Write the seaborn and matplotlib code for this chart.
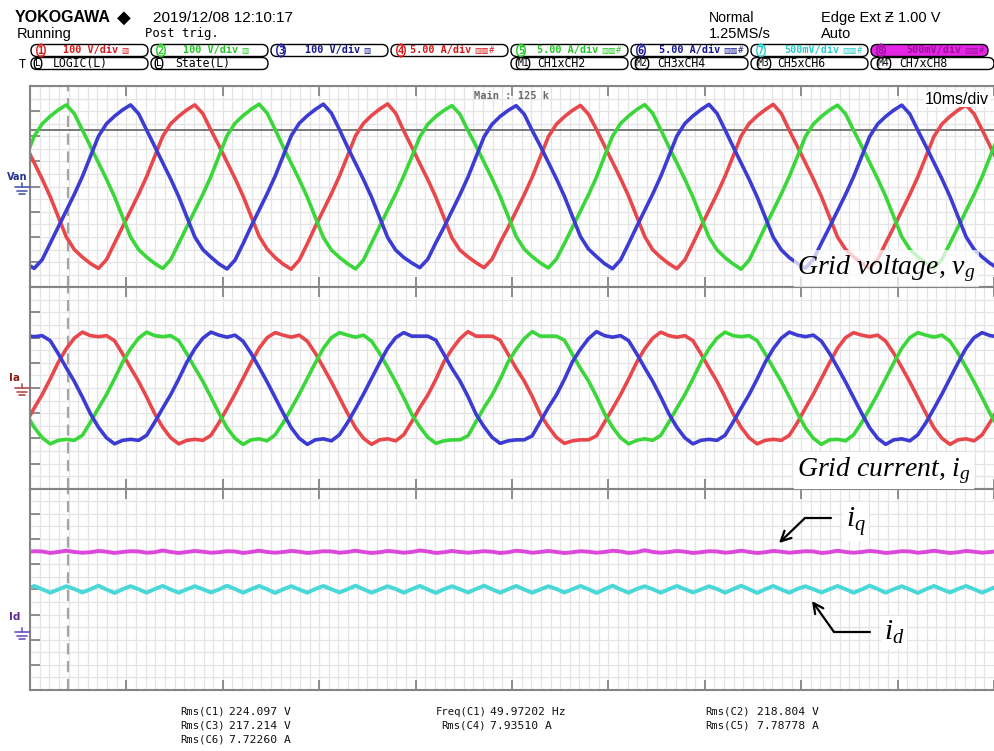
import numpy as np
import pandas as pd
import matplotlib
matplotlib.use("Agg")
import matplotlib.pyplot as plt
import seaborn as sns
from matplotlib.patches import FancyBboxPatch

# ---------------------------------------------------------------------------
# Scope record: 10 ms/div, 10 divisions; sample instants in ms
# ---------------------------------------------------------------------------
t_ms = -0.4 + np.arange(122) * (100.0 / 120.0)

# CH1..CH3 grid phase voltages (V), 100 V/div
v_ch1 = [160, 95, 30, -40, -120, -200, -250, -280, -305, -325, -290, -225, -160, -95, -30, 40, 120, 200, 250, 280, 305, 325, 290, 225,
         163, 98, 33, -37, -117, -197, -248, -282, -308, -328, -292, -227, -158, -93, -28, 42, 122, 202, 252, 283, 308, 329, 292, 222,
         158, 92, 28, -42, -122, -203, -252, -279, -302, -322, -288, -222, -162, -97, -32, 38, 118, 198, 248, 278, 303, 323, 288, 227,
         162, 97, 32, -38, -118, -198, -251, -281, -306, -326, -291, -226, -159, -94, -29, 41, 121, 201, 251, 281, 306, 327, 291, 224,
         160, 95, 30, -40, -120, -200, -249, -279, -304, -324, -289, -224, -161, -96, -31, 39, 119, 199, 249, 279, 304, 324, 289, 226,
         161, 96]
v_ch2 = [120, 200, 250, 280, 305, 325, 290, 225, 160, 95, 30, -40, -120, -200, -250, -280, -305, -325, -290, -225, -160, -95, -30, 40,
         122, 202, 252, 282, 307, 328, 292, 227, 158, 93, 28, -42, -122, -202, -252, -281, -306, -327, -291, -224, -158, -93, -28, 42,
         118, 198, 248, 279, 303, 322, 288, 223, 162, 97, 32, -38, -118, -198, -248, -278, -303, -323, -288, -226, -162, -97, -32, 38,
         121, 201, 251, 281, 306, 326, 291, 226, 159, 94, 29, -41, -121, -201, -251, -282, -307, -328, -292, -227, -159, -94, -29, 41,
         119, 199, 249, 279, 304, 324, 289, 224, 161, 96, 31, -39, -119, -199, -249, -279, -304, -324, -289, -225, -161, -96, -31, 39,
         120, 200]
v_ch3 = [-305, -325, -290, -225, -160, -95, -30, 40, 120, 200, 250, 280, 305, 325, 290, 225, 160, 95, 30, -40, -120, -200, -250, -280,
         -307, -327, -292, -227, -158, -93, -28, 42, 122, 202, 252, 282, 307, 328, 292, 227, 158, 93, 28, -42, -122, -202, -252, -281,
         -303, -322, -288, -223, -162, -97, -32, 38, 118, 198, 248, 279, 303, 322, 288, 223, 162, 97, 32, -38, -118, -198, -248, -278,
         -306, -326, -291, -226, -159, -94, -29, 41, 121, 201, 251, 281, 306, 327, 291, 226, 159, 94, 29, -41, -121, -201, -251, -282,
         -304, -324, -289, -224, -161, -96, -31, 39, 119, 199, 249, 279, 304, 324, 289, 224, 161, 96, 31, -39, -119, -199, -249, -279,
         -305, -325]

# CH4..CH6 grid phase currents (A), 5 A/div
i_ch4 = [-6.8, -4.0, -1.3, 1.8, 5.1, 7.8, 9.9, 11.1, 10.4, 10.2, 10.4, 9.4, 6.8, 4.0, 1.3, -1.8, -5.1, -7.8, -9.9, -11.1, -10.4, -10.2, -10.4, -9.4,
         -6.9, -4.1, -1.2, 1.9, 5.0, 7.9, 10.0, 11.0, 10.5, 10.1, 10.5, 9.3, 6.9, 4.1, 1.2, -1.9, -5.0, -7.9, -10.0, -11.2, -10.3, -10.1, -10.5, -9.3,
         -6.7, -3.9, -1.4, 1.7, 5.2, 7.7, 9.8, 11.2, 10.3, 10.3, 10.3, 9.5, 6.7, 3.9, 1.4, -1.7, -5.2, -7.7, -9.8, -11.0, -10.5, -10.3, -10.3, -9.5,
         -6.8, -4.1, -1.3, 1.8, 5.1, 7.8, 9.9, 11.1, 10.4, 10.1, 10.4, 9.4, 6.8, 4.0, 1.3, -1.8, -5.1, -7.8, -9.9, -11.1, -10.4, -10.2, -10.4, -9.4,
         -6.9, -4.0, -1.2, 1.9, 5.0, 7.9, 10.0, 11.0, 10.5, 10.2, 10.5, 9.3, 6.9, 4.1, 1.2, -1.9, -5.0, -7.9, -10.0, -11.2, -10.3, -10.1, -10.5, -9.3,
         -6.8, -4.0]
i_ch5 = [-5.1, -7.8, -9.9, -11.1, -10.4, -10.2, -10.4, -9.4, -6.8, -4.0, -1.3, 1.8, 5.1, 7.8, 9.9, 11.1, 10.4, 10.2, 10.4, 9.4, 6.8, 4.0, 1.3, -1.8,
         -5.0, -7.9, -10.0, -11.2, -10.3, -10.1, -10.5, -9.3, -6.9, -4.1, -1.2, 1.9, 5.0, 7.9, 10.0, 11.0, 10.5, 10.1, 10.5, 9.3, 6.9, 4.1, 1.2, -1.9,
         -5.2, -7.7, -9.8, -11.0, -10.5, -10.3, -10.3, -9.5, -6.7, -3.9, -1.4, 1.7, 5.2, 7.7, 9.8, 11.2, 10.3, 10.3, 10.3, 9.5, 6.7, 3.9, 1.4, -1.7,
         -5.1, -7.8, -9.9, -11.1, -10.4, -10.1, -10.4, -9.4, -6.8, -4.0, -1.3, 1.8, 5.1, 7.8, 9.9, 11.1, 10.4, 10.2, 10.4, 9.4, 6.8, 4.0, 1.3, -1.8,
         -5.0, -7.9, -10.0, -11.2, -10.3, -10.2, -10.5, -9.3, -6.9, -4.1, -1.2, 1.9, 5.0, 7.9, 10.0, 11.0, 10.5, 10.1, 10.5, 9.3, 6.9, 4.1, 1.2, -1.9,
         -5.1, -7.8]
i_ch6 = [10.4, 10.2, 10.4, 9.4, 6.8, 4.0, 1.3, -1.8, -5.1, -7.8, -9.9, -11.1, -10.4, -10.2, -10.4, -9.4, -6.8, -4.0, -1.3, 1.8, 5.1, 7.8, 9.9, 11.1,
         10.5, 10.1, 10.5, 9.3, 6.9, 4.1, 1.2, -1.9, -5.0, -7.9, -10.0, -11.2, -10.3, -10.1, -10.5, -9.3, -6.9, -4.1, -1.2, 1.9, 5.0, 7.9, 10.0, 11.0,
         10.3, 10.3, 10.3, 9.5, 6.7, 3.9, 1.4, -1.7, -5.2, -7.7, -9.8, -11.0, -10.5, -10.3, -10.3, -9.5, -6.7, -3.9, -1.4, 1.7, 5.2, 7.7, 9.8, 11.2,
         10.4, 10.1, 10.4, 9.4, 6.8, 4.0, 1.3, -1.8, -5.1, -7.8, -9.9, -11.1, -10.4, -10.2, -10.4, -9.4, -6.8, -4.0, -1.3, 1.8, 5.1, 7.8, 9.9, 11.1,
         10.5, 10.2, 10.5, 9.3, 6.9, 4.1, 1.2, -1.9, -5.0, -7.9, -10.0, -11.2, -10.3, -10.1, -10.5, -9.3, -6.9, -4.1, -1.2, 1.9, 5.0, 7.9, 10.0, 11.0,
         10.4, 10.2]

# CH7 (i_d) and CH8 (i_q) controller outputs (V), 500 mV/div
id_ch7 = [0.850, 0.915, 0.850, 0.780, 0.845, 0.910, 0.855, 0.785, 0.850, 0.920, 0.845, 0.775,
          0.850, 0.910, 0.850, 0.780, 0.855, 0.915, 0.845, 0.780, 0.850, 0.910, 0.850, 0.785,
          0.845, 0.920, 0.855, 0.780, 0.850, 0.915, 0.850, 0.775, 0.850, 0.910, 0.845, 0.780,
          0.855, 0.915, 0.850, 0.785, 0.850, 0.920, 0.850, 0.780, 0.845, 0.910, 0.855, 0.780,
          0.850, 0.915, 0.845, 0.775, 0.850, 0.910, 0.850, 0.785, 0.855, 0.920, 0.850, 0.780,
          0.850, 0.915, 0.845, 0.780, 0.845, 0.910, 0.855, 0.785, 0.850, 0.915, 0.850, 0.775,
          0.850, 0.920, 0.845, 0.780, 0.855, 0.910, 0.850, 0.780, 0.850, 0.915, 0.850, 0.785,
          0.845, 0.910, 0.855, 0.780, 0.850, 0.920, 0.850, 0.775, 0.850, 0.915, 0.845, 0.780,
          0.855, 0.910, 0.850, 0.785, 0.850, 0.915, 0.850, 0.780, 0.845, 0.920, 0.855, 0.780,
          0.850, 0.910, 0.845, 0.775, 0.850, 0.915, 0.850, 0.785, 0.855, 0.915, 0.850, 0.780,
          0.850, 0.915]
iq_ch8 = [1.585, 1.605, 1.600, 1.570, 1.590, 1.615, 1.590, 1.575, 1.585, 1.610, 1.595, 1.570,
          1.590, 1.605, 1.600, 1.575, 1.585, 1.620, 1.590, 1.570, 1.590, 1.610, 1.595, 1.575,
          1.585, 1.605, 1.600, 1.570, 1.590, 1.615, 1.590, 1.575, 1.590, 1.610, 1.595, 1.570,
          1.585, 1.605, 1.600, 1.575, 1.590, 1.615, 1.590, 1.570, 1.585, 1.610, 1.595, 1.575,
          1.590, 1.620, 1.600, 1.570, 1.585, 1.610, 1.590, 1.575, 1.590, 1.605, 1.595, 1.570,
          1.585, 1.615, 1.600, 1.575, 1.590, 1.610, 1.590, 1.570, 1.585, 1.605, 1.595, 1.575,
          1.590, 1.615, 1.600, 1.570, 1.585, 1.625, 1.590, 1.575, 1.590, 1.610, 1.595, 1.570,
          1.585, 1.605, 1.600, 1.575, 1.590, 1.615, 1.590, 1.570, 1.585, 1.610, 1.595, 1.575,
          1.590, 1.605, 1.600, 1.570, 1.585, 1.615, 1.590, 1.575, 1.590, 1.610, 1.595, 1.570,
          1.585, 1.605, 1.600, 1.575, 1.590, 1.615, 1.590, 1.570, 1.585, 1.610, 1.595, 1.575,
          1.590, 1.605]

trigger_ms = 3.9          # trigger position marker
level_v = 227             # horizontal cursor in the voltage zone

# readouts printed under the screen
readouts = [
    (180, 229, 712, "Rms(C1)", "224.097 V"),
    (180, 229, 726, "Rms(C3)", "217.214 V"),
    (180, 229, 740, "Rms(C6)", "7.72260 A"),
    (436, 490, 712, "Freq(C1)", "49.97202 Hz"),
    (441, 490, 726, "Rms(C4)", "7.93510 A"),
    (705, 757, 712, "Rms(C2)", "218.804 V"),
    (705, 757, 726, "Rms(C5)", "7.78778 A"),
]

# ---------------------------------------------------------------------------
sns.set_theme(style="white")
plt.rcParams["font.family"] = ["Liberation Sans", "DejaVu Sans"]
plt.rcParams["mathtext.fontset"] = "custom"
plt.rcParams["mathtext.it"] = "Liberation Serif:italic"
plt.rcParams["mathtext.rm"] = "Liberation Serif"

W, H = 994, 751
fig = plt.figure(figsize=(W / 100, H / 100), dpi=100)
fig.patch.set_facecolor("white")

RED, GREEN, BLUE = "#e8484c", "#3ad63a", "#3c3cd2"
CYAN, MAGENTA = "#48d8d8", "#dc48dc"
GRID, FRAME = "#e4e4e4", "#858585"

X0, X1 = 30, 994
Y_TOP, Y_BOT = 86, 690
ZONE = (Y_BOT - Y_TOP) / 3.0
DIV_PX = ZONE / 8.0


def zone_axes(i):
    top = Y_TOP + i * ZONE
    return fig.add_axes([X0 / W, 1 - (top + ZONE) / H, (X1 - X0) / W, ZONE / H])


ax_v, ax_i, ax_dq = zone_axes(0), zone_axes(1), zone_axes(2)

# vertical scales
gnd_dq_px = 632
dq_top = (gnd_dq_px - (Y_TOP + 2 * ZONE)) / DIV_PX * 0.5
scales = [
    (ax_v, -400, 400, 100),
    (ax_i, -20, 20, 5),
    (ax_dq, dq_top - 4.0, dq_top, 0.5),
]

for ax, lo, hi, per_div in scales:
    ax.set_facecolor("white")
    ax.set_xlim(0, 100)
    ax.set_ylim(lo, hi)
    ax.set_xticks(np.arange(0, 101, 10))
    ax.set_xticks(np.arange(0, 101, 1), minor=True)
    ax.set_yticks(hi - per_div * np.arange(0, 9))
    ax.set_yticks(hi - per_div / 2 * np.arange(0, 17), minor=True)
    ax.grid(which="both", color=GRID, lw=0.9)
    ax.set_axisbelow(True)
    ax.tick_params(which="major", direction="in", length=7, width=1.3, color=FRAME,
                   top=True, bottom=True, left=True, right=False,
                   labelbottom=False, labelleft=False)
    ax.tick_params(which="minor", length=0)
    for side in ["left", "top", "bottom"]:
        ax.spines[side].set_color(FRAME)
        ax.spines[side].set_linewidth(1.5)
    ax.spines["right"].set_visible(False)
    ax.axvline(trigger_ms, color="#a5a5a5", lw=1.6, ls=(0, (5, 3)), zorder=1.5)

ax_v.axhline(level_v, color="#6e6e6e", lw=1.3, zorder=1.6)


def long_frame(names, series):
    return pd.DataFrame({
        "t": np.tile(t_ms, len(series)),
        "val": np.concatenate([np.asarray(s, float) for s in series]),
        "ch": np.repeat(names, len(t_ms)),
    })


df_v = long_frame(["CH1", "CH2", "CH3"], [v_ch1, v_ch2, v_ch3])
df_i = long_frame(["CH4", "CH5", "CH6"], [i_ch4, i_ch5, i_ch6])
df_dq = long_frame(["CH8", "CH7"], [iq_ch8, id_ch7])

sns.lineplot(data=df_v, x="t", y="val", hue="ch", ax=ax_v, legend=False,
             palette={"CH1": RED, "CH2": GREEN, "CH3": BLUE},
             estimator=None, sort=False, lw=2.6)
sns.lineplot(data=df_i, x="t", y="val", hue="ch", ax=ax_i, legend=False,
             palette={"CH4": RED, "CH5": GREEN, "CH6": BLUE},
             estimator=None, sort=False, lw=2.6)
sns.lineplot(data=df_dq, x="t", y="val", hue="ch", ax=ax_dq, legend=False,
             palette={"CH7": CYAN, "CH8": MAGENTA},
             estimator=None, sort=False, lw=2.8)
for ax in (ax_v, ax_i, ax_dq):
    ax.set_xlabel("")
    ax.set_ylabel("")

# ---------------------------------------------------------------------------
# Overlay in pixel coordinates: header, markers, readouts and annotations
# ---------------------------------------------------------------------------
ov = fig.add_axes([0, 0, 1, 1], zorder=10)
ov.set_xlim(0, W)
ov.set_ylim(H, 0)
ov.axis("off")

MONO = ["DejaVu Sans Mono", "DejaVu Sans"]
SANS = ["Liberation Sans", "DejaVu Sans"]
SERIF = ["Liberation Serif", "DejaVu Serif"]


def txt(x, y, s, **kw):
    kw.setdefault("va", "center")
    kw.setdefault("ha", "left")
    return ov.text(x, y, s, **kw)


# top status lines
txt(15, 18, "YOKOGAWA", fontsize=11.5, weight="bold", family=SANS, color="black")
txt(117, 18, "\u25c6", fontsize=13, family=["DejaVu Sans"], color="black")
txt(153, 18, "2019/12/08 12:10:17", fontsize=11, family=SANS, color="black")
txt(17, 34, "Running", fontsize=10.5, family=SANS, color="black")
txt(145, 34, "Post trig.", fontsize=8.8, family=MONO, color="black")
txt(709, 18, "Normal", fontsize=10.2, family=SANS, color="black")
txt(709, 34, "1.25MS/s", fontsize=10.5, family=SANS, color="black")
txt(821, 18, "Edge Ext \u01b5 1.00 V", fontsize=10.5, family=SANS, color="black")
txt(821, 34, "Auto", fontsize=10.5, family=SANS, color="black")

# channel setting boxes
CHAR_W = 6.1
ch_info = [
    ("1", "100 V/div", "\u25a5", "#d81818", 63),
    ("2", "100 V/div", "\u25a5", "#22c822", 183),
    ("3", "100 V/div", "\u25a5", "#161690", 305),
    ("4", "5.00 A/div", "\u25a5\u25a5#", "#d81818", 410),
    ("5", "5.00 A/div", "\u25a5\u25a5#", "#22c822", 537),
    ("6", "5.00 A/div", "\u25a5\u25a5#", "#161690", 659),
    ("7", "500mV/div", "\u25a5\u25a5#", "#28cccc", 784),
    ("8", "500mV/div", "\u25a5\u25a5#", "#9a109a", 906),
]
for i, (num, lab, icon, col, tx) in enumerate(ch_info):
    x0 = 30 + 120 * i
    fill = "#e426e4" if num == "8" else "white"
    ov.add_patch(FancyBboxPatch((x0 + 1, 44.5), 117, 12,
                                boxstyle="round,pad=0,rounding_size=6",
                                fc=fill, ec="black", lw=1.0, zorder=2))
    ncol = "#9a109a" if num == "8" else col
    txt(x0 + 11, 50.5, num, fontsize=7.5, weight="bold", family=MONO, color=ncol, ha="center",
        zorder=3, bbox=dict(boxstyle="round,pad=0.1,rounding_size=0.5", fc=fill, ec=ncol, lw=1))
    txt(tx, 50.5, lab, fontsize=7.3, weight="bold", family=MONO, color=col, zorder=3)
    txt(tx + CHAR_W * len(lab) + 3, 50.5, icon, fontsize=5.5, family=["DejaVu Sans"],
        color=col, zorder=3)

# second header row
txt(19, 64, "T", fontsize=8.5, family=MONO, color="black")
row2 = [
    (30, 150, "L", "LOGIC(L)", 38, 53),
    (150, 270, "L", "State(L)", 159, 175),
    (510, 630, "M1", "CH1xCH2", 523, 537),
    (630, 750, "M2", "CH3xCH4", 642, 657),
    (750, 870, "M3", "CH5xCH6", 764, 777),
    (870, 996, "M4", "CH7xCH8", 884, 899),
]
for xa, xb, tag, lab, xt, xl in row2:
    ov.add_patch(FancyBboxPatch((xa + 1, 57.5), xb - xa - 3, 12,
                                boxstyle="round,pad=0,rounding_size=6",
                                fc="white", ec="black", lw=1.0, zorder=2))
    txt(xt, 63.5, tag, fontsize=7, family=MONO, color="black", ha="center", zorder=3,
        bbox=dict(boxstyle="round,pad=0.08,rounding_size=0.5", fc="white", ec="black", lw=1))
    txt(xl, 63.5, lab, fontsize=8.3, family=MONO, color="black", zorder=3)

# in-screen text
txt(474, 96, "Main : 125 k", fontsize=7.5, weight="bold", family=MONO, color="#6a6a6a")
txt(925, 99, "10ms/div", fontsize=11.5, family=SANS, color="black",
    bbox=dict(fc="white", ec="none", pad=0.5))


# zone labels and ground markers
def ground(y, col):
    ov.plot([15, 30], [y, y], color=col, lw=1.2)
    ov.plot([21.5, 21.5], [y - 4, y], color=col, lw=1.2)
    ov.plot([17, 27], [y + 3.5, y + 3.5], color=col, lw=1.2)
    ov.plot([19, 25], [y + 7, y + 7], color=col, lw=1.2)


txt(7, 177, "Van", fontsize=7, weight="bold", family=["DejaVu Sans"], color="#22348c")
ground(187, "#4a5ab0")
txt(9, 378, "Ia", fontsize=7.5, weight="bold", family=["DejaVu Sans"], color="#8c1c1c")
ground(388, "#b84a4a")
txt(9, 617, "Id", fontsize=7.5, weight="bold", family=["DejaVu Sans"], color="#5a2a9a")
ground(632, "#6a50c8")

# measurement readouts
for xl, xv, y, lab, val in readouts:
    txt(xl, y, lab, fontsize=7.6, family=MONO, color="#111111")
    txt(xv, y, val, fontsize=8.2, family=MONO, color="#111111")

# figure annotations
txt(797, 274, "Grid voltage, $v_g$", fontsize=20, family=SERIF, style="italic",
    va="baseline", color="black",
    bbox=dict(fc="white", ec="none", alpha=0.72, pad=2.5))
txt(797, 476, "Grid current, $i_g$", fontsize=20, family=SERIF, style="italic",
    va="baseline", color="black",
    bbox=dict(fc="white", ec="none", alpha=1.0, pad=2.5))
txt(846, 527, "$i_q$", fontsize=21, family=SERIF, va="baseline", color="black",
    bbox=dict(fc="white", ec="none", pad=2))
txt(884, 640, "$i_d$", fontsize=21, family=SERIF, va="baseline", color="black",
    bbox=dict(fc="white", ec="none", pad=2))

arrow = dict(arrowstyle="->", lw=1.6, color="black", mutation_scale=18, shrinkA=0, shrinkB=0)
ov.plot([831, 805], [518, 518], color="black", lw=1.6)
ov.annotate("", xy=(779, 543), xytext=(805, 518), arrowprops=arrow)
ov.plot([870, 834], [632, 632], color="black", lw=1.6)
ov.annotate("", xy=(812, 601), xytext=(834, 632), arrowprops=arrow)

fig.savefig("out.png", dpi=100, facecolor="white")
